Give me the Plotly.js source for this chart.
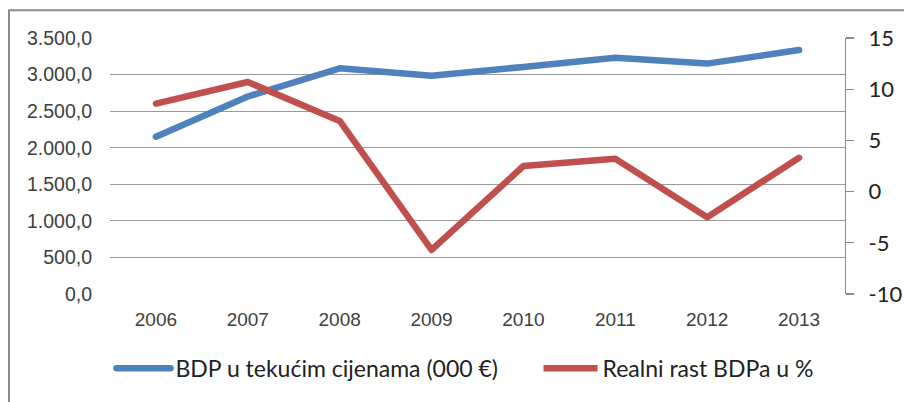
<!DOCTYPE html>
<html>
<head>
<meta charset="utf-8">
<script src="https://cdn.plot.ly/plotly-3.0.1.min.js"></script>
<style>
  html, body { margin: 0; padding: 0; background: #fff; }
  #chart { width: 904px; height: 402px; }
  .scatterlayer .js-line, .legend .js-line { stroke-linejoin: round; stroke-linecap: round; }
</style>
</head>
<body>
<div id="chart"></div>
<script>
const years = ["2006", "2007", "2008", "2009", "2010", "2011", "2012", "2013"];
const bdpValues = [2150, 2700, 3085, 2985, 3105, 3230, 3150, 3335];
const rastValues = [8.6, 10.7, 6.9, -5.7, 2.5, 3.2, -2.5, 3.3];
const seriesNames = ["BDP u tekućim cijenama (000 €)", "Realni rast BDPa u %"];
const rastTickVals = [-10, -5, 0, 5, 10, 15];
const rastTickText = ["-10", "-5", "0", "5", "10", "15"];

const traces = [
  {
    x: years, y: bdpValues, name: seriesNames[0], type: "scatter", mode: "lines",
    line: { color: "#4F81BD", width: 6.5 }, yaxis: "y", legend: "legend"
  },
  {
    x: years, y: rastValues, name: seriesNames[1], type: "scatter", mode: "lines",
    line: { color: "#C0504D", width: 6.5 }, yaxis: "y2", legend: "legend2"
  }
];

const legendCommon = {
  orientation: "h", xanchor: "left", y: -0.29, yanchor: "middle",
  itemwidth: 54,
  font: { family: "Lato", size: 23, color: "#222" },
  bgcolor: "rgba(0,0,0,0)"
};

const layout = {
  width: 904, height: 402,
  margin: { l: 110, r: 59, t: 38, b: 105 },
  paper_bgcolor: "#fff", plot_bgcolor: "#fff",
  separators: ",.",
  showlegend: true,
  xaxis: {
    type: "category", range: [-0.5, 7.5], showgrid: false, zeroline: false,
    showline: false, ticks: "", ticklabelstandoff: 12, automargin: false,
    tickfont: { family: "Liberation Sans, Arial", size: 19, color: "#404040" }
  },
  yaxis: {
    range: [0, 3500], dtick: 500, tick0: 0, tickformat: ",.1f",
    showgrid: true, gridcolor: "#9a9a9a", gridwidth: 1.2, zeroline: false,
    showline: false, ticks: "", ticklabelstandoff: 17, automargin: false,
    tickfont: { family: "Liberation Sans, Arial", size: 19.5, color: "#404040" }
  },
  yaxis2: {
    overlaying: "y", side: "right", range: [-10, 15],
    tickmode: "array", tickvals: rastTickVals, ticktext: rastTickText,
    showgrid: false, zeroline: false, showline: true, linecolor: "#8a8a8a", linewidth: 1.2,
    ticks: "outside", ticklen: 8, tickcolor: "#8a8a8a", tickwidth: 1.2, ticklabelstandoff: 10,
    automargin: false,
    tickfont: { family: "Lato", size: 22, color: "#222" }
  },
  legend: Object.assign({}, legendCommon, { x: 0.002 }),
  legend2: Object.assign({}, legendCommon, { x: 0.583 }),
  shapes: [
    {
      type: "path", xref: "paper", yref: "paper",
      path: "M -0.1374,-2 L -0.1374,1.108 L 2,1.108",
      line: { color: "#8a8a8a", width: 2 }
    }
  ]
};

Plotly.newPlot("chart", traces, layout, { displayModeBar: false, staticPlot: true });
</script>
</body>
</html>
